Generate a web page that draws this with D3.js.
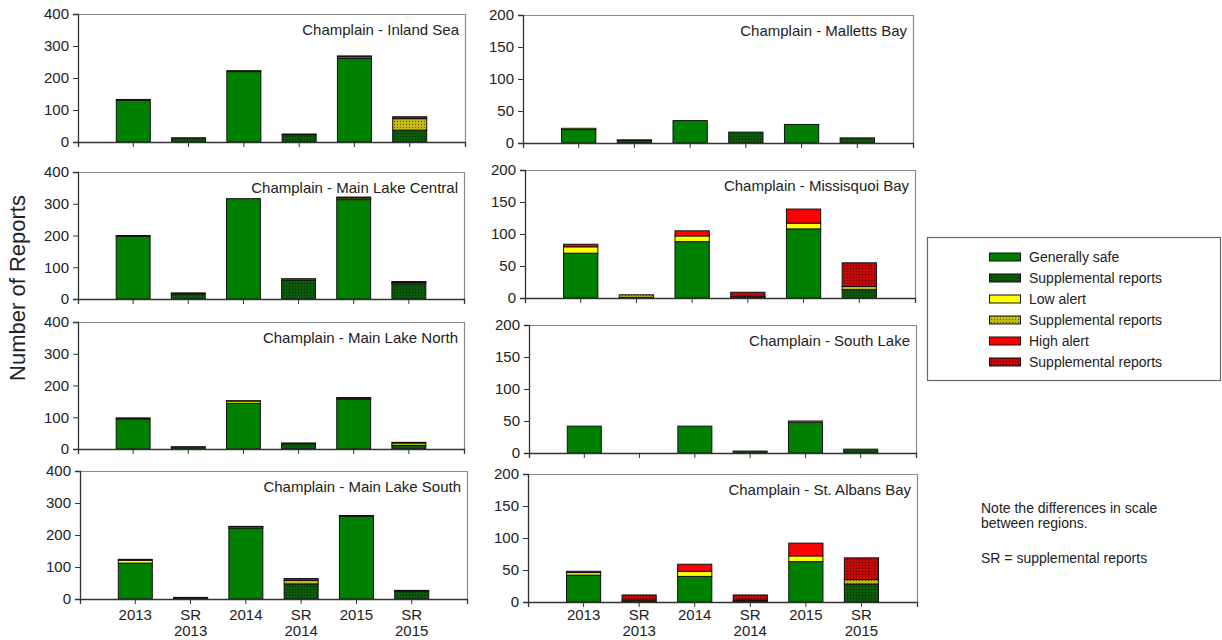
<!DOCTYPE html>
<html>
<head>
<meta charset="utf-8">
<script src="https://cdn.jsdelivr.net/npm/d3@7"></script>
<style>
  html, body { margin: 0; padding: 0; background: #fff; }
  svg { display: block; font-family: "Liberation Sans", Arial, sans-serif; }
</style>
</head>
<body>
<svg id="chart" width="1222" height="640"></svg>
<script>
// Report categories along the x axis
const categories = ["2013", "SR 2013", "2014", "SR 2014", "2015", "SR 2015"];

// Per region: [generally safe, low alert, high alert] for each category.
// SR columns use the supplemental-report versions of the three levels.
const inlandSea        = [[130, 3, 0], [12, 1, 0], [220, 3, 0], [23, 2, 0], [261, 5, 3], [37, 36, 6]];
const mallettsBay      = [[21, 2, 0], [4, 1, 0], [35, 0, 0], [17, 0, 0], [29, 0, 0], [8, 0, 0]];
const mainLakeCentral  = [[197, 3, 0], [16, 2, 1], [316, 0, 0], [60, 4, 0], [313, 5, 3], [48, 4, 3]];
const missisquoiBay    = [[70, 10, 4], [1, 4, 0], [88, 9, 8], [1, 1, 7], [108, 9, 22], [13, 5, 37]];
const mainLakeNorth    = [[95, 3, 0], [6, 1, 0], [144, 7, 1], [17, 2, 0], [157, 3, 2], [11, 8, 2]];
const southLake        = [[42, 0, 0], [0, 0, 0], [42, 0, 0], [3, 0, 0], [48, 2, 0], [6, 0, 0]];
const mainLakeSouth    = [[112, 9, 3], [3, 1, 1], [222, 4, 1], [47, 11, 6], [258, 3, 0], [25, 2, 0]];
const stAlbansBay      = [[42, 4, 2], [1, 2, 8], [40, 8, 11], [2, 1, 8], [63, 9, 20], [28, 7, 34]];

const regionNames = [
  "Champlain - Inland Sea", "Champlain - Malletts Bay",
  "Champlain - Main Lake Central", "Champlain - Missisquoi Bay",
  "Champlain - Main Lake North", "Champlain - South Lake",
  "Champlain - Main Lake South", "Champlain - St. Albans Bay"
];
const regionData = [inlandSea, mallettsBay, mainLakeCentral, missisquoiBay,
                    mainLakeNorth, southLake, mainLakeSouth, stAlbansBay];
const regionMax = [400, 200, 400, 200, 400, 200, 400, 200];
const yTicksLeft = [0, 100, 200, 300, 400];
const yTicksRight = [0, 50, 100, 150, 200];

const legendLabels = ["Generally safe", "Supplemental reports", "Low alert",
                      "Supplemental reports", "High alert", "Supplemental reports"];

// Panel frames: [left, top, right, bottom]
const frames = [
  [78, 14, 465, 142], [523, 15, 913, 143],
  [78, 172, 464, 299], [525, 170, 915, 298],
  [78, 322, 464, 449], [529, 325, 916, 453],
  [80, 471, 467, 599], [528, 474, 917, 602]
];

const solidColors = ["#008000", "#ffff00", "#ff0000"];
const patternBase = ["#0a5a0a", "#c2bc10", "#c00a0a"];
const levelKeys = ["safe", "low", "high"];

const svg = d3.select("#chart");
const defs = svg.append("defs");

// Dotted fills for supplemental reports
patternBase.forEach((c, i) => {
  const p = defs.append("pattern")
    .attr("id", "sup" + i)
    .attr("patternUnits", "userSpaceOnUse")
    .attr("width", 3).attr("height", 3);
  p.append("rect").attr("width", 3).attr("height", 3).attr("fill", c);
  p.append("rect").attr("x", 1).attr("y", 1).attr("width", 1).attr("height", 1)
    .attr("fill", "#000").attr("opacity", 0.55);
});

const isSR = c => c.startsWith("SR");
const fillFor = (cat, level) => isSR(cat) ? `url(#sup${level})` : solidColors[level];

const stack = d3.stack().keys(levelKeys);

regionData.forEach((rows, idx) => {
  const [x0, y0, x1, y1] = frames[idx];
  const right = idx % 2 === 1;
  const bottomRow = idx >= 6;

  const x = d3.scaleBand()
    .domain(categories)
    .range([x0, x1])
    .paddingInner(0.385)
    .paddingOuter(0.6925);
  const y = d3.scaleLinear().domain([0, regionMax[idx]]).range([y1, y0]);

  const g = svg.append("g");

  // Top and right frame edges
  g.append("path")
    .attr("d", `M${x0},${y0 + 0.5}H${x1 + 0.5}V${y1}`)
    .attr("fill", "none").attr("stroke", "#8a8a8a").attr("stroke-width", 1.2);

  const table = rows.map((r, i) => ({ cat: categories[i], safe: r[0], low: r[1], high: r[2] }));
  const series = stack(table);

  series.forEach((s, level) => {
    g.selectAll(null)
      .data(s.filter(d => d[1] - d[0] > 0))
      .join("rect")
      .attr("x", d => x(d.data.cat))
      .attr("width", x.bandwidth())
      .attr("y", d => y(d[1]))
      .attr("height", d => y(d[0]) - y(d[1]))
      .attr("fill", d => fillFor(d.data.cat, level))
      .attr("stroke", "#111")
      .attr("stroke-width", 1);
  });

  // Y axis
  const yAxis = d3.axisLeft(y)
    .tickValues(right ? yTicksRight : yTicksLeft)
    .tickSize(5).tickPadding(4);
  const ya = g.append("g").attr("transform", `translate(${x0},0)`).call(yAxis);
  ya.select(".domain").attr("stroke", "#333").attr("stroke-width", 1.3);
  ya.selectAll(".tick line").attr("stroke", "#333");
  ya.selectAll(".tick text").attr("font-size", 15).attr("fill", "#222")
    .attr("font-family", "Liberation Sans, Arial, sans-serif");

  // X axis
  const xAxis = d3.axisBottom(x).tickSize(5).tickFormat("");
  const xa = g.append("g").attr("transform", `translate(0,${y1})`).call(xAxis);
  xa.select(".domain").attr("stroke", "#333").attr("stroke-width", 1.3);
  xa.selectAll(".tick line").attr("stroke", "#333");

  if (bottomRow) {
    categories.forEach(c => {
      const cx = x(c) + x.bandwidth() / 2;
      const t = g.append("text")
        .attr("x", cx).attr("y", 620)
        .attr("text-anchor", "middle")
        .attr("font-size", 15).attr("fill", "#222");
      const parts = c.split(" ");
      parts.forEach((p, k) => {
        t.append("tspan").attr("x", cx).attr("dy", k === 0 ? 0 : 16).text(p);
      });
    });
  }

  // Region title
  g.append("text")
    .attr("x", x1 - 6).attr("y", y0 + 21)
    .attr("text-anchor", "end")
    .attr("font-size", 15).attr("fill", "#222")
    .text(regionNames[idx]);
});

// Shared y axis title
svg.append("text")
  .attr("transform", "translate(25,288) rotate(-90)")
  .attr("text-anchor", "middle")
  .attr("font-size", 22).attr("fill", "#222")
  .text("Number of Reports");

// Legend
const legend = svg.append("g");
legend.append("rect")
  .attr("x", 927.5).attr("y", 237.5).attr("width", 293).attr("height", 143)
  .attr("fill", "#fff").attr("stroke", "#666").attr("stroke-width", 1.2);
legendLabels.forEach((lab, i) => {
  const level = Math.floor(i / 2);
  const fill = i % 2 === 0 ? solidColors[level] : `url(#sup${level})`;
  const cy = 257 + i * 21;
  legend.append("rect")
    .attr("x", 989.5).attr("y", cy - 4).attr("width", 31).attr("height", 8)
    .attr("fill", fill).attr("stroke", "#111").attr("stroke-width", 1);
  legend.append("text")
    .attr("x", 1029).attr("y", cy + 5)
    .attr("font-size", 14).attr("fill", "#222")
    .text(lab);
});

// Notes
const notes = svg.append("g").attr("font-size", 14).attr("fill", "#222");
notes.append("text").attr("x", 981).attr("y", 513).text("Note the differences in scale");
notes.append("text").attr("x", 981).attr("y", 528).text("between regions.");
notes.append("text").attr("x", 981).attr("y", 563).text("SR = supplemental reports");
</script>
</body>
</html>
